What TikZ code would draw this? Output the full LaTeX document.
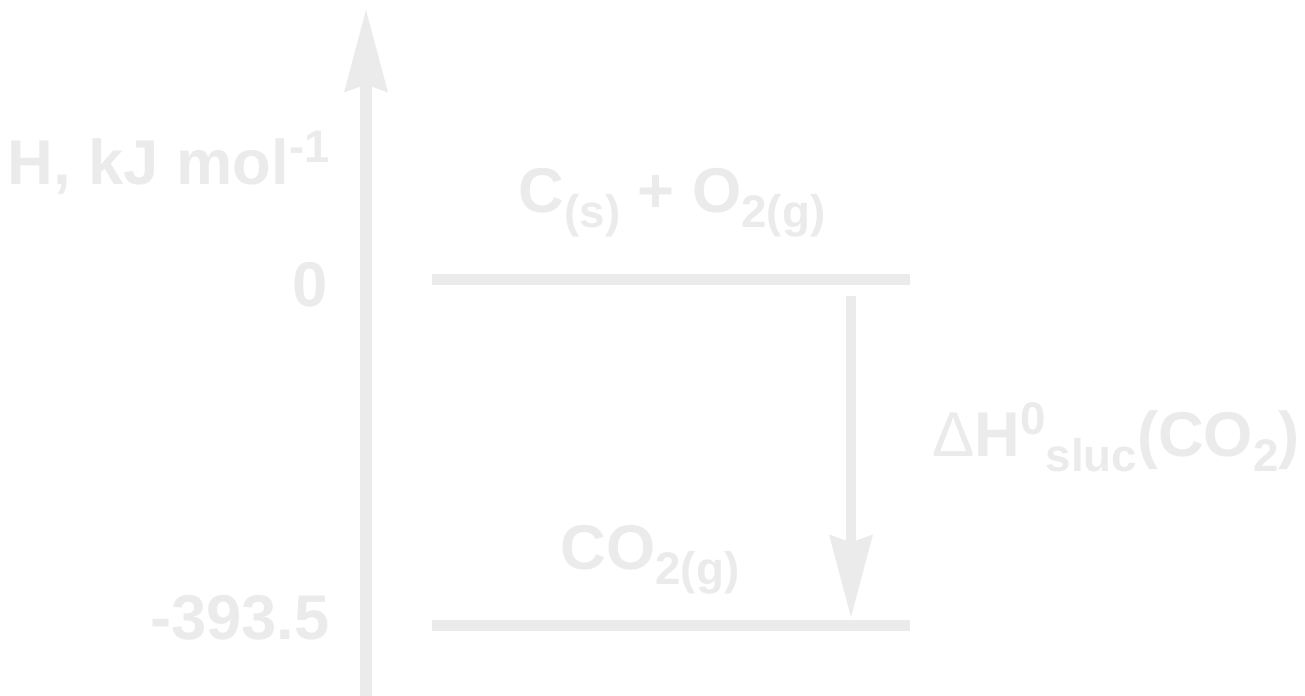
\documentclass[tikz,border=0pt]{standalone}
\usepackage{fontspec}
\setmainfont{Liberation Sans}
\usetikzlibrary{arrows.meta}
\definecolor{paleink}{HTML}{EBEBEB}
\newcommand{\hi}[1]{\raisebox{13pt}{\fontsize{26}{28}\selectfont #1}}
\newcommand{\lo}[1]{\raisebox{-8.5pt}{\fontsize{26}{28}\selectfont #1}}
\tikzset{
  lbl/.style={text=paleink, inner sep=0pt, font=\fontsize{36}{40}\selectfont\bfseries},
  level/.style={draw=paleink, line width=0.22cm},
  bigtip/.style={-{Stealth[length=1.65cm,width=0.88cm,inset=0.16cm,line width=0pt]}}
}

\begin{document}
\begin{tikzpicture}
  \fill[white] (0,0) rectangle (26.1,13.92);
  \useasboundingbox (0,0) rectangle (26.1,13.92);
  % enthalpy axis
  \coordinate (axisfoot) at (7.32,0);
  \coordinate (axistop) at (7.32,13.72);
  \draw[paleink, line width=0.24cm, bigtip] (axisfoot) -- (axistop);
  % levels
  \coordinate (upw) at (8.64,8.32);
  \coordinate (upe) at (18.2,8.32);
  \coordinate (downw) at (8.64,1.40);
  \coordinate (downe) at (18.2,1.40);
  \draw[level] (upw) -- (upe);
  \draw[level] (downw) -- (downe);
  % reaction arrow
  \coordinate (dropstart) at (17.02,8.0);
  \coordinate (dropend) at (17.02,1.58);
  \draw[paleink, line width=0.2cm, bigtip] (dropstart) -- (dropend);
  % labels
  \node[lbl, anchor=base east] (unitlbl) at (6.6,10.22) {H, kJ mol\hi{-1}};
  \node[lbl, anchor=base east] (zerolbl) at (6.56,7.78) {0};
  \node[lbl, anchor=base east] (lowlbl) at (6.6,1.12) {-393.5};
  \node[lbl, anchor=base] (reactants) at (13.44,9.66) {C\lo{(s)} + O\lo{2(g)}};
  \node[lbl, anchor=base] (product) at (13.0,2.52) {CO\lo{2(g)}};
  \node[lbl, anchor=base west] (dhlbl) at (18.64,4.78) {{\mdseries Δ}H\hi{0}\lo{sluc}(CO\lo{2})};
\end{tikzpicture}
\end{document}
